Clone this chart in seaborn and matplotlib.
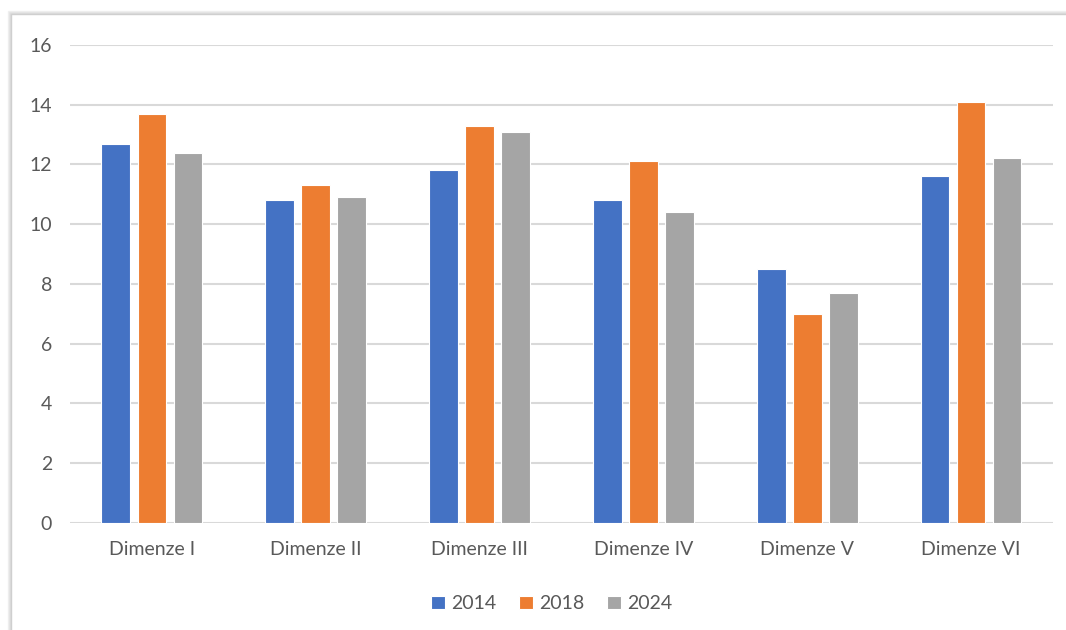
import seaborn as sns
import matplotlib.pyplot as plt
import pandas as pd
from matplotlib.patches import Rectangle

categories = ["Dimenze I", "Dimenze II", "Dimenze III", "Dimenze IV", "Dimenze V", "Dimenze VI"]
years = ["2014", "2018", "2024"]
values_2014 = [12.7, 10.8, 11.8, 10.8, 8.5, 11.6]
values_2018 = [13.7, 11.3, 13.3, 12.1, 7.0, 14.1]
values_2024 = [12.4, 10.9, 13.1, 10.4, 7.7, 12.2]
y_ticks = [0, 2, 4, 6, 8, 10, 12, 14, 16]

colors = ["#4472C4", "#ED7D31", "#A5A5A5"]

df = pd.DataFrame({
    "dimenze": categories * 3,
    "rok": [y for y in years for _ in categories],
    "hodnota": values_2014 + values_2018 + values_2024,
})

sns.set_style("white")
plt.rcParams["font.family"] = ["Lato", "DejaVu Sans"]
text_color = "#595959"

fig = plt.figure(figsize=(10.66, 6.3), dpi=100)
ax = fig.add_axes([0.0657, 0.170, 0.922, 0.7586])

# chart frame with a soft shadow, cut off at right and bottom
for off, col in [(3, "#f0f0f0"), (2, "#e6e6e6"), (1, "#dcdcdc")]:
    fig.patches.append(Rectangle((11 / 1066 - off / 1066, -0.2), 1.2, 1 - 14 / 630 + 0.2 + off / 630,
                                 transform=fig.transFigure, fill=False, edgecolor=col, lw=1.0, zorder=0))
fig.patches.append(Rectangle((11 / 1066, -0.2), 1.2, 1 - 14 / 630 + 0.2,
                             transform=fig.transFigure, fill=False, edgecolor="#cfcfcf", lw=1.0, zorder=0))

sns.barplot(data=df, x="dimenze", y="hodnota", hue="rok", palette=colors, saturation=1,
            width=0.66, gap=0.2, ax=ax, edgecolor="white", linewidth=0.8, zorder=3)

ax.set_ylim(0, 16)
ax.set_yticks(y_ticks)
ax.set_xlim(-0.5, len(categories) - 0.5)
ax.yaxis.grid(True, color="#d9d9d9", linewidth=1.5, zorder=0)
ax.set_axisbelow(True)
for s in ax.spines.values():
    s.set_visible(False)
ax.tick_params(axis="both", length=0, labelsize=14, colors=text_color)
ax.tick_params(axis="y", pad=13)
ax.tick_params(axis="x", pad=13)
ax.set_xlabel("")
ax.set_ylabel("")

ax.legend(loc="upper center", bbox_to_anchor=(0.49, -0.115), ncol=3, frameon=False,
          fontsize=14, labelcolor=text_color, handlelength=0.7, handleheight=0.7,
          handletextpad=0.3, columnspacing=1.2)

fig.savefig("out.png", dpi=100)
